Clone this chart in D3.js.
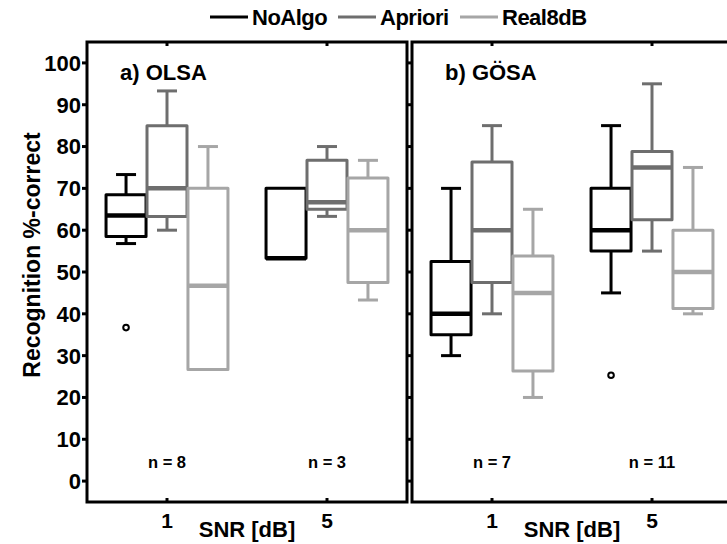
<!DOCTYPE html>
<html>
<head>
<meta charset="utf-8">
<script src="https://cdn.jsdelivr.net/npm/d3@7"></script>
<style>
  body { margin: 0; background: #fff; }
  svg text { font-family: "Liberation Sans", Arial, sans-serif; font-weight: bold; fill: #000; }
</style>
</head>
<body>
<svg id="chart" width="727" height="544"></svg>
<script>
// series + groups
const seriesNames = ['NoAlgo', 'Apriori', 'Real8dB'];
const seriesColors = ['#000000', '#6e6e6e', '#a6a6a6'];
const snrLabels = ['1', '5'];
const panelTitles = ['a) OLSA', 'b) GÖSA'];
const nLabels = [['n = 8', 'n = 3'], ['n = 7', 'n = 11']];
const yTicks = [0, 10, 20, 30, 40, 50, 60, 70, 80, 90, 100];

// box stats per panel -> snr -> series: [whiskerLow, q1, median, q3, whiskerHigh]
const olsaStats = [
  [[56.8, 58.5, 63.5, 68.5, 73.3], [60, 63.3, 70, 85, 93.3], [26.7, 26.7, 46.7, 70, 80]],
  [[53.3, 53.3, 53.3, 70, 70], [63.3, 65, 66.7, 76.7, 80], [43.3, 47.5, 60, 72.5, 76.7]]
];
const gosaStats = [
  [[30, 35, 40, 52.5, 70], [40, 47.5, 60, 76.3, 85], [20, 26.3, 45, 53.8, 65]],
  [[45, 55, 60, 70, 85], [55, 62.5, 75, 78.8, 95], [40, 41.3, 50, 60, 75]]
];
// outliers: [snrIndex, seriesIndex, value]
const olsaOutliers = [[0, 0, 36.7]];
const gosaOutliers = [[1, 0, 25.3]];

const panels = [
  { stats: olsaStats, outliers: olsaOutliers, x0: 87, x1: 407 },
  { stats: gosaStats, outliers: gosaOutliers, x0: 412, x1: 732 }
];

const svg = d3.select('#chart');
const plotTop = 42, plotBottom = 502;

const y = d3.scaleLinear().domain([-5, 105]).range([plotBottom, plotTop]);

panels.forEach((p, pi) => {
  const g = svg.append('g');
  const x = d3.scaleLinear().domain([0.5, 2.5]).range([p.x0, p.x1]);
  const off = 0.256, bw = 0.25;

  // boxes
  p.stats.forEach((grp, si) => {
    grp.forEach((s, k) => {
      const cx = x(si + 1 + (k - 1) * off);
      const half = (x(bw) - x(0)) / 2;
      const col = seriesColors[k];
      const capHalf = 10;
      const [lo, q1, med, q3, hi] = s;
      const b = g.append('g').attr('stroke', col).attr('fill', 'none');
      if (hi > q3) {
        b.append('line').attr('x1', cx).attr('x2', cx).attr('y1', y(q3)).attr('y2', y(hi)).attr('stroke-width', 3);
        b.append('line').attr('x1', cx - capHalf).attr('x2', cx + capHalf).attr('y1', y(hi)).attr('y2', y(hi)).attr('stroke-width', 3);
      }
      if (lo < q1) {
        b.append('line').attr('x1', cx).attr('x2', cx).attr('y1', y(q1)).attr('y2', y(lo)).attr('stroke-width', 3);
        b.append('line').attr('x1', cx - capHalf).attr('x2', cx + capHalf).attr('y1', y(lo)).attr('y2', y(lo)).attr('stroke-width', 3);
      }
      b.append('rect')
        .attr('x', cx - half).attr('width', half * 2)
        .attr('y', y(q3)).attr('height', y(q1) - y(q3))
        .attr('stroke-width', 3).attr('stroke-linejoin', 'round');
      b.append('line').attr('x1', cx - half).attr('x2', cx + half)
        .attr('y1', y(med)).attr('y2', y(med)).attr('stroke-width', 4.5);
    });
  });

  p.outliers.forEach(([si, k, v]) => {
    g.append('circle')
      .attr('cx', x(si + 1 + (k - 1) * off)).attr('cy', y(v)).attr('r', 2.8)
      .attr('fill', 'none').attr('stroke', seriesColors[k]).attr('stroke-width', 2);
  });

  // y ticks (outward)
  g.selectAll('.yt').data(yTicks).enter().append('line')
    .attr('x1', p.x0 - 5).attr('x2', p.x0)
    .attr('y1', d => y(d)).attr('y2', d => y(d))
    .attr('stroke', '#000').attr('stroke-width', 3);

  // x ticks inside top and bottom
  [1, 2].forEach(v => {
    g.append('line').attr('x1', x(v)).attr('x2', x(v)).attr('y1', plotTop).attr('y2', plotTop + 4)
      .attr('stroke', '#000').attr('stroke-width', 3);
    g.append('line').attr('x1', x(v)).attr('x2', x(v)).attr('y1', plotBottom).attr('y2', plotBottom - 4)
      .attr('stroke', '#000').attr('stroke-width', 3);
  });

  // frame
  g.append('rect').attr('x', p.x0).attr('y', plotTop)
    .attr('width', p.x1 - p.x0).attr('height', plotBottom - plotTop)
    .attr('fill', 'none').attr('stroke', '#000').attr('stroke-width', 3);

  // labels
  if (pi === 0) {
    g.selectAll('.yl').data(yTicks).enter().append('text')
      .attr('x', p.x0 - 6).attr('y', d => y(d)).attr('dy', '0.36em')
      .attr('text-anchor', 'end').style('font-size', '22px')
      .text(d => d);
  }
  g.append('text').attr('x', x(0.5) + 33).attr('y', 80)
    .style('font-size', '22px').text(panelTitles[pi]);
  snrLabels.forEach((t, i) => {
    g.append('text').attr('x', x(i + 1)).attr('y', 528)
      .attr('text-anchor', 'middle').style('font-size', '21px').text(t);
    g.append('text').attr('x', x(i + 1)).attr('y', 468)
      .attr('text-anchor', 'middle').style('font-size', '16.5px').text(nLabels[pi][i]);
  });
  g.append('text').attr('x', x(1.5)).attr('y', 537)
    .attr('text-anchor', 'middle').style('font-size', '22px').text('SNR [dB]');
});

// y axis label
svg.append('text')
  .attr('transform', `translate(40,${(plotTop + plotBottom) / 2 - 17}) rotate(-90)`)
  .attr('text-anchor', 'middle').style('font-size', '23px')
  .text('Recognition %-correct');

// legend
const legendX = [210, 338, 460];
const legend = svg.append('g');
seriesNames.forEach((name, i) => {
  legend.append('line').attr('x1', legendX[i]).attr('x2', legendX[i] + 38)
    .attr('y1', 17).attr('y2', 17)
    .attr('stroke', seriesColors[i]).attr('stroke-width', 3);
  legend.append('text').attr('x', legendX[i] + 42).attr('y', 25)
    .style('font-size', '22px').style('letter-spacing', '-0.5px').text(name);
});
</script>
</body>
</html>
